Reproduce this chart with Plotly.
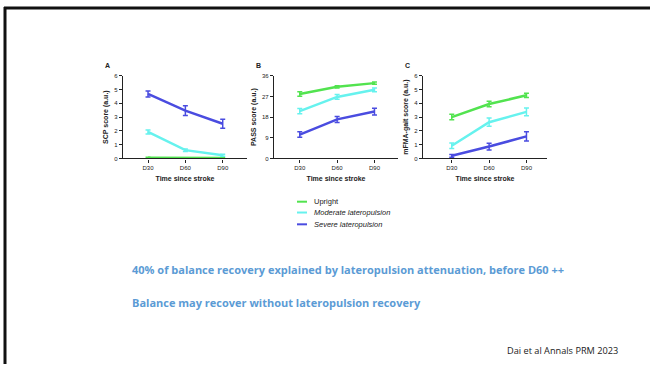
import plotly.graph_objects as go

W, H = 650, 367

days = ["D30", "D60", "D90"]
series_names = ["Upright", "Moderate lateropulsion", "Severe lateropulsion"]
legend_labels = ["Upright", "<i>Moderate lateropulsion</i>", "<i>Severe lateropulsion</i>"]
colors = ["#52E34F", "#66F2EE", "#4A4CE0"]

# Panel A: SCP score
scp_upright = [0.05, 0.03, 0.03]
scp_upright_err = [0.03, 0.02, 0.02]
scp_moderate = [1.92, 0.60, 0.23]
scp_moderate_err = [0.14, 0.09, 0.08]
scp_severe = [4.68, 3.47, 2.52]
scp_severe_err = [0.22, 0.36, 0.33]

# Panel B: PASS score
pass_upright = [28.1, 31.2, 32.8]
pass_upright_err = [1.0, 0.5, 0.5]
pass_moderate = [20.6, 26.8, 29.9]
pass_moderate_err = [1.1, 1.0, 0.8]
pass_severe = [10.4, 17.0, 20.4]
pass_severe_err = [1.2, 1.3, 1.5]

# Panel C: mFMA-gait score
fma_upright = [3.0, 3.95, 4.58]
fma_upright_err = [0.2, 0.2, 0.15]
fma_moderate = [0.92, 2.63, 3.38]
fma_moderate_err = [0.2, 0.3, 0.28]
fma_severe = [0.19, 0.86, 1.6]
fma_severe_err = [0.1, 0.25, 0.33]

panels = [
    dict(key="A", ytitle="SCP score (a.u.)", yrange=[0, 6], dtick=1,
         vals=[scp_upright, scp_moderate, scp_severe],
         errs=[scp_upright_err, scp_moderate_err, scp_severe_err],
         px=(123, 247), xr=[-0.67, 2.65]),
    dict(key="B", ytitle="PASS score (a.u.)", yrange=[0, 36], dtick=9,
         vals=[pass_upright, pass_moderate, pass_severe],
         errs=[pass_upright_err, pass_moderate_err, pass_severe_err],
         px=(274, 398), xr=[-0.69, 2.63]),
    dict(key="C", ytitle="mFMA-gait score (a.u.)", yrange=[0, 6], dtick=1,
         vals=[fma_upright, fma_moderate, fma_severe],
         errs=[fma_upright_err, fma_moderate_err, fma_severe_err],
         px=(423, 547), xr=[-0.77, 2.55]),
]

fig = go.Figure()
y_top, y_bot = 74, 158
ydom = [1 - y_bot / H, 1 - y_top / H]

layout = dict()
annotations = []
for i, p in enumerate(panels):
    sfx = "" if i == 0 else str(i + 1)
    xa, ya = "x" + sfx, "y" + sfx
    for s in range(3):
        fig.add_trace(go.Scatter(
            x=days, y=p["vals"][s], mode="lines",
            line=dict(color=colors[s], width=2.5),
            error_y=dict(type="data", array=p["errs"][s], color=colors[s],
                         thickness=1.5, width=2.5),
            xaxis=xa, yaxis=ya, showlegend=False, name=series_names[s]))
    axis_font = dict(family="Arial", size=6, color="#222")
    layout["xaxis" + sfx] = dict(
        domain=[p["px"][0] / W, p["px"][1] / W], anchor=ya, type="category",
        range=p["xr"], showline=True, linecolor="#222", linewidth=1.3,
        ticks="outside", ticklen=3, tickcolor="#222", tickwidth=1,
        showgrid=False, zeroline=False, tickfont=axis_font,
        title=dict(text="<b>Time since stroke</b>",
                   font=dict(family="Arial", size=7, color="#222"), standoff=6))
    layout["yaxis" + sfx] = dict(
        domain=ydom, anchor=xa, range=p["yrange"], dtick=p["dtick"],
        showline=True, linecolor="#222", linewidth=1.3,
        ticks="outside", ticklen=3, tickcolor="#222", tickwidth=1,
        showgrid=False, zeroline=False, tickfont=axis_font,
        title=dict(text="<b>" + p["ytitle"] + "</b>",
                   font=dict(family="Arial", size=7, color="#222"), standoff=4))
    annotations.append(dict(text="<b>" + p["key"] + "</b>", x=(p["px"][0] - 20) / W,
                            y=1 - 64 / H, xref="paper", yref="paper", showarrow=False,
                            font=dict(family="Arial", size=7, color="#222"),
                            xanchor="left", yanchor="middle"))

# legend built as annotations + line shapes
shapes = []
leg_y = [202, 213, 225]
for s in range(3):
    shapes.append(dict(type="line", xref="paper", yref="paper",
                       x0=297 / W, x1=307 / W, y0=1 - leg_y[s] / H, y1=1 - leg_y[s] / H,
                       line=dict(color=colors[s], width=2)))
    annotations.append(dict(text=legend_labels[s], x=312 / W, y=1 - leg_y[s] / H,
                            xref="paper", yref="paper", showarrow=False,
                            xanchor="left", yanchor="middle",
                            font=dict(family="Arial", size=7.5, color="#222")))

annotations.append(dict(
    text="<b>40% of balance recovery explained by lateropulsion attenuation, before D60 ++</b>",
    x=130 / W, y=1 - 271 / H, xref="paper", yref="paper", showarrow=False,
    xanchor="left", yanchor="middle",
    font=dict(family="Open Sans", size=11, color="#5B9BD5")))
annotations.append(dict(
    text="<b>Balance may recover without lateropulsion recovery</b>",
    x=130 / W, y=1 - 304 / H, xref="paper", yref="paper", showarrow=False,
    xanchor="left", yanchor="middle",
    font=dict(family="Open Sans", size=11, color="#5B9BD5")))
annotations.append(dict(
    text="Dai et al Annals PRM 2023", x=505 / W, y=1 - 353 / H,
    xref="paper", yref="paper", showarrow=False, xanchor="left", yanchor="middle",
    font=dict(family="Open Sans", size=9.2, color="#222")))

# slide border (top and left)
shapes.append(dict(type="line", xref="paper", yref="paper", x0=4 / W, x1=1,
                   y0=1 - 5 / H, y1=1 - 5 / H, line=dict(color="#111", width=3)))
shapes.append(dict(type="line", xref="paper", yref="paper", x0=5 / W, x1=5 / W,
                   y0=0, y1=1 - 4 / H, line=dict(color="#111", width=3)))

fig.update_layout(width=W, height=H, margin=dict(l=0, r=0, t=0, b=0),
                  paper_bgcolor="white", plot_bgcolor="white",
                  annotations=annotations, shapes=shapes, showlegend=False, **layout)

fig.write_html("out.html", config={"displayModeBar": False},
               post_script="document.body.style.margin='0';")
